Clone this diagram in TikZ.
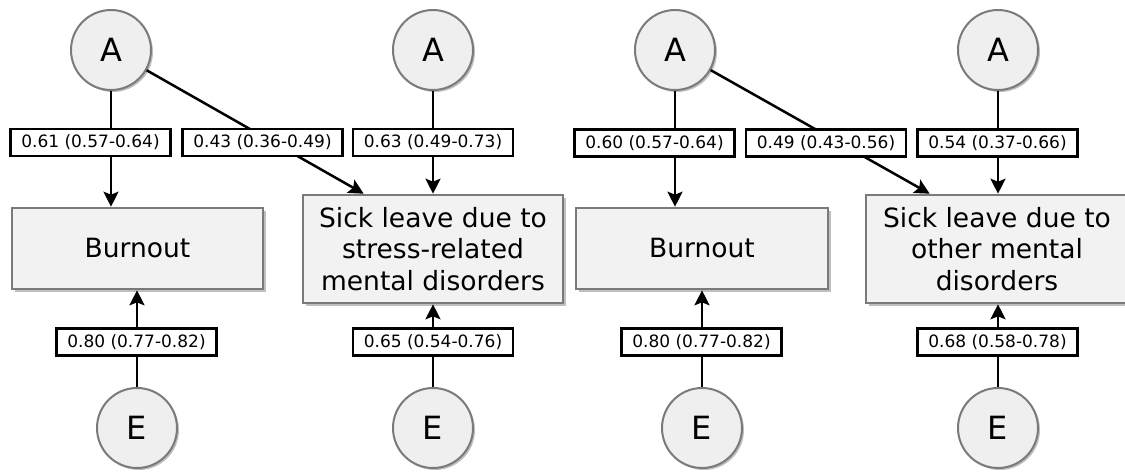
\documentclass[tikz,border=0pt]{standalone}
\usepackage{fontspec}
\setmainfont{DejaVu Sans}
\usetikzlibrary{arrows.meta,shadows}
\definecolor{boxfill}{HTML}{F2F2F2}
\definecolor{circfill}{HTML}{EFEFEF}
\definecolor{bordergray}{HTML}{7A7A7A}
\tikzset{
  latent/.style={circle,draw=bordergray,line width=2pt,fill=circfill,minimum size=80pt,inner sep=0pt,
    font=\fontsize{32}{36}\selectfont,
    drop shadow={shadow xshift=2pt,shadow yshift=-2pt,fill=black,opacity=0.25}},
  outcome/.style={rectangle,draw=bordergray,line width=2.6pt,fill=boxfill,inner sep=0pt,align=center,
    font=\fontsize{26.5}{31.5}\selectfont,
    drop shadow={shadow xshift=2.5pt,shadow yshift=-2.5pt,fill=black,opacity=0.25}},
  est/.style={rectangle,draw=black,line width=2.5pt,fill=white,minimum width=160pt,minimum height=27pt,
    inner sep=0pt,font=\fontsize{17}{18}\selectfont},
  arr/.style={line width=2.5pt,-{Stealth[length=15pt,width=15pt,inset=3pt]}},
}
\begin{document}
\begin{tikzpicture}[x=1pt,y=-1pt]
\useasboundingbox (0,0) rectangle (1125,472);
% latent circles
\node[latent] (A1) at (111,50) {A};
\node[latent] (A2) at (433,50) {A};
\node[latent] (A3) at (675,50) {A};
\node[latent] (A4) at (998,50) {A};
\node[latent] (E1) at (137,428) {E};
\node[latent] (E2) at (433,428) {E};
\node[latent] (E3) at (702,428) {E};
\node[latent] (E4) at (998,428) {E};
% outcome boxes
\node[outcome,minimum width=251pt,minimum height=81pt] (B1) at (137.5,248.5) {Burnout};
\node[outcome,minimum width=260pt,minimum height=108pt] (S1) at (433,249) {Sick leave due to\\stress-related\\mental disorders};
\node[outcome,minimum width=252pt,minimum height=81pt] (B2) at (702,248.5) {Burnout};
\node[outcome,minimum width=262pt,minimum height=108pt] (S2) at (997,249) {Sick leave due to\\other mental\\disorders};
% connectors
\draw[arr] (A1) -- (A1 |- B1.north);
\draw[arr] (A1) -- ([xshift=62pt]S1.north west);
\draw[arr] (A2) -- (A2 |- S1.north);
\draw[arr] (E1) -- (E1 |- B1.south);
\draw[arr] (E2) -- (E2 |- S1.south);
\draw[arr] (A3) -- (A3 |- B2.north);
\draw[arr] (A3) -- ([xshift=65pt]S2.north west);
\draw[arr] (A4) -- (A4 |- S2.north);
\draw[arr] (E3) -- (E3 |- B2.south);
\draw[arr] (E4) -- (E4 |- S2.south);
% estimates
\node[est] (L1) at (90.5,142.5) {0.61 (0.57-0.64)};
\node[est] (L2) at (262.5,142.5) {0.43 (0.36-0.49)};
\node[est] (L3) at (433,142.5) {0.63 (0.49-0.73)};
\node[est] (L4) at (136.5,342) {0.80 (0.77-0.82)};
\node[est] (L5) at (433,342) {0.65 (0.54-0.76)};
\node[est] (L6) at (654.5,143) {0.60 (0.57-0.64)};
\node[est] (L7) at (826,143) {0.49 (0.43-0.56)};
\node[est] (L8) at (997.5,143) {0.54 (0.37-0.66)};
\node[est] (L9) at (701.5,342) {0.80 (0.77-0.82)};
\node[est] (L10) at (997.5,342) {0.68 (0.58-0.78)};
\end{tikzpicture}
\end{document}
